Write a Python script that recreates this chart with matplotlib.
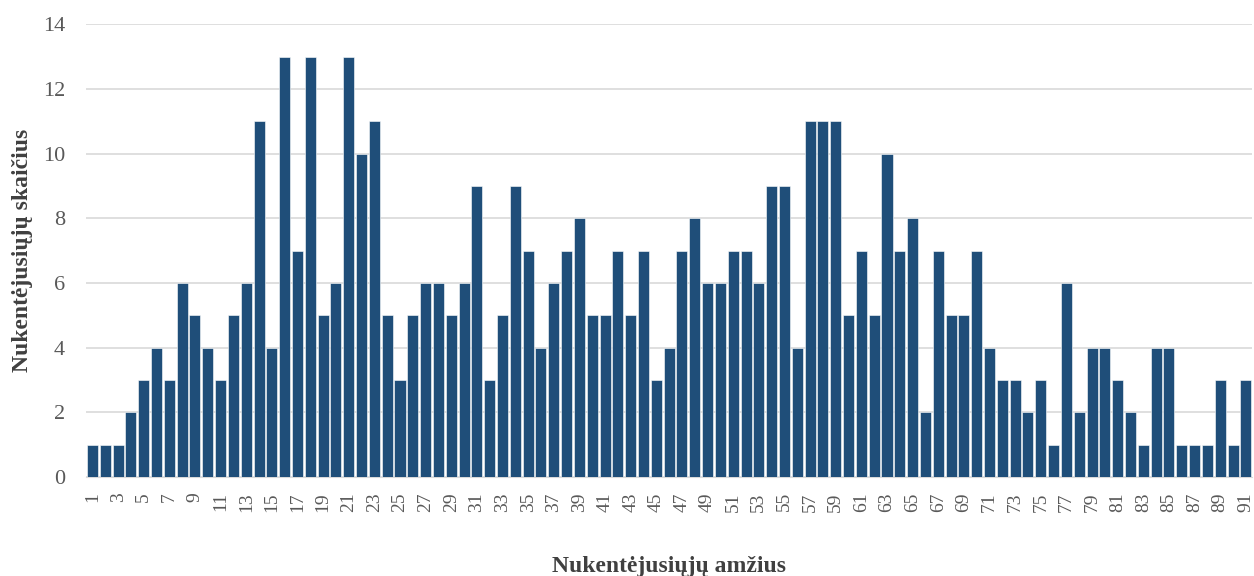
import matplotlib.pyplot as plt

ages = list(range(1, 92))
counts = [1, 1, 1, 2, 3, 4, 3, 6, 5, 4,
          3, 5, 6, 11, 4, 13, 7, 13, 5, 6,
          13, 10, 11, 5, 3, 5, 6, 6, 5, 6,
          9, 3, 5, 9, 7, 4, 6, 7, 8, 5,
          5, 7, 5, 7, 3, 4, 7, 8, 6, 6,
          7, 7, 6, 9, 9, 4, 11, 11, 11, 5,
          7, 5, 10, 7, 8, 2, 7, 5, 5, 7,
          4, 3, 3, 2, 3, 1, 6, 2, 4, 4,
          3, 2, 1, 4, 4, 1, 1, 1, 3, 1, 3]
tick_labels = [str(a) for a in ages[::2]]

plt.rcParams["font.family"] = ["Liberation Serif", "DejaVu Serif"]

fig = plt.figure(figsize=(12.54, 5.76), dpi=100)
ax = fig.add_axes([0.0686, 0.172, 0.930, 0.786])

ax.bar(ages, counts, width=0.86, color="#1F4E79", edgecolor="white", linewidth=0.4, zorder=3)

ax.set_xlim(0.5, 91.5)
ax.set_ylim(0, 14)
ax.set_yticks(range(0, 15, 2))
ax.set_xticks(ages[::2])
ax.set_xticklabels(tick_labels, rotation=90)
ax.tick_params(axis="both", length=0, colors="#595959")
ax.tick_params(axis="y", labelsize=16, pad=15)
ax.tick_params(axis="x", labelsize=14, pad=11)

ax.grid(axis="y", color="#D9D9D9", linewidth=1.2, zorder=0)
for s in ["top", "right", "left"]:
    ax.spines[s].set_visible(False)
ax.spines["bottom"].set_color("#D9D9D9")

ax.set_ylabel("Nukentėjusiųjų skaičius", fontsize=17, fontweight="bold", color="#404040", labelpad=7)
ax.set_xlabel("Nukentėjusiųjų amžius", fontsize=17, fontweight="bold", color="#404040", labelpad=32)

fig.savefig("out.png", dpi=100)
